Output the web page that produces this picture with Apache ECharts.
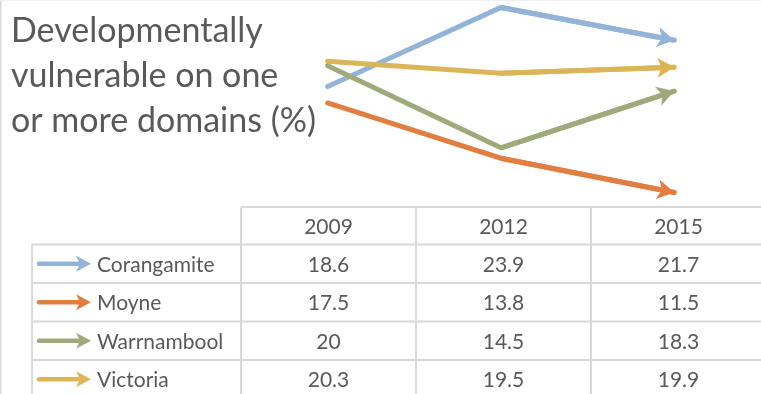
<!DOCTYPE html>
<html>
<head>
<meta charset="utf-8">
<script src="https://cdn.jsdelivr.net/npm/echarts@6/dist/echarts.min.js"></script>
<style>
  html, body { margin: 0; padding: 0; background: #fff; }
  #chart { width: 761px; height: 394px; }
</style>
</head>
<body>
<div id="chart"></div>
<script>
// Share of children developmentally vulnerable on one or more domains (%)
const years = ['2009', '2012', '2015'];
const regions = ['Corangamite', 'Moyne', 'Warrnambool', 'Victoria'];
const corangamite = [18.6, 23.9, 21.7];
const moyne = [17.5, 13.8, 11.5];
const warrnambool = [20, 14.5, 18.3];
const victoria = [20.3, 19.5, 19.9];
const titleLines = ['Developmentally', 'vulnerable on one', 'or more domains (%)'];

const seriesValues = [corangamite, moyne, warrnambool, victoria];
const colors = ['#93b4d7', '#e07f41', '#9faa7b', '#dcb559'];

// layout of the plot and the data table beneath it
const FONT = 'Lato, "Open Sans", sans-serif';
const TEXT = '#595959';
const GRID_LINE = '#d9d9d9';
const plotLeft = 241, colW = 175, plotTop = 0, plotH = 200;
const tableTop = 207, headH = 37.5, rowH = 38.5, legendLeft = 32;
const tableRight = plotLeft + colW * years.length;
const tableBottom = tableTop + headH + rowH * regions.length;

const chart = echarts.init(document.getElementById('chart'), null, { renderer: 'canvas' });

const series = regions.map((name, i) => {
  const v = seriesValues[i];
  const n = v.length;
  return {
    name: name,
    type: 'line',
    data: v,
    symbol: 'none',
    silent: true,
    z: 2 + i,
    lineStyle: { color: colors[i], width: 5, cap: 'round', join: 'miter' },
    markLine: {
      silent: true,
      symbol: ['none', 'arrow'],
      symbolSize: [15, 17],
      label: { show: false },
      lineStyle: { color: colors[i], width: 5, type: 'solid' },
      animation: false,
      data: [[{ coord: [n - 2, v[n - 2]] }, { coord: [n - 1, v[n - 1]] }]]
    }
  };
});

// data table: borders, year header, legend keys and values
const graphics = [];
function hline(x1, x2, y) {
  graphics.push({ type: 'line', silent: true, z: 1,
    shape: { x1: x1, y1: y, x2: x2, y2: y },
    style: { stroke: GRID_LINE, lineWidth: 2 } });
}
function vline(x, y1, y2) {
  graphics.push({ type: 'line', silent: true, z: 1,
    shape: { x1: x, y1: y1, x2: x, y2: y2 },
    style: { stroke: GRID_LINE, lineWidth: 2 } });
}
hline(plotLeft, tableRight, tableTop);
for (let r = 0; r <= regions.length; r++) {
  hline(legendLeft, tableRight, tableTop + headH + r * rowH);
}
vline(legendLeft, tableTop + headH, tableBottom);
for (let c = 0; c <= years.length; c++) {
  vline(plotLeft + c * colW, tableTop, tableBottom);
}
const cellFont = '21px ' + FONT;
years.forEach((y, c) => {
  graphics.push({ type: 'text', silent: true, z: 3,
    style: { text: y, x: plotLeft + colW * (c + 0.5), y: tableTop + headH / 2 + 1,
      align: 'center', verticalAlign: 'middle', fill: TEXT, font: cellFont } });
});
regions.forEach((name, r) => {
  const cy = tableTop + headH + rowH * (r + 0.5);
  // legend key: thick stroke with an arrowhead
  graphics.push({ type: 'line', silent: true, z: 3,
    shape: { x1: 39, y1: cy, x2: 80, y2: cy },
    style: { stroke: colors[r], lineWidth: 4.5, lineCap: 'round' } });
  graphics.push({ type: 'polygon', silent: true, z: 3,
    shape: { points: [[91, cy], [76, cy - 8], [80, cy], [76, cy + 8]] },
    style: { fill: colors[r] } });
  graphics.push({ type: 'text', silent: true, z: 3,
    style: { text: name, x: 97, y: cy + 1, align: 'left', verticalAlign: 'middle',
      fill: TEXT, font: cellFont } });
  seriesValues[r].forEach((val, c) => {
    graphics.push({ type: 'text', silent: true, z: 3,
      style: { text: String(val), x: plotLeft + colW * (c + 0.5), y: cy + 1,
        align: 'center', verticalAlign: 'middle', fill: TEXT, font: cellFont } });
  });
});
titleLines.forEach((t, i) => {
  graphics.push({ type: 'text', silent: true, z: 3,
    style: { text: t, x: 11, y: 31 + i * 45, align: 'left', verticalAlign: 'middle',
      fill: TEXT, font: '34px ' + FONT } });
});
// chart area frame
vline(0.5, 0, 394);
graphics.push({ type: 'line', silent: true, z: 1,
  shape: { x1: 0, y1: 0.5, x2: 761, y2: 0.5 },
  style: { stroke: '#f0f0f0', lineWidth: 1 } });

chart.setOption({
  animation: false,
  backgroundColor: '#ffffff',
  grid: { left: plotLeft, top: plotTop, width: colW * years.length, height: plotH, containLabel: false },
  xAxis: { type: 'category', data: years, boundaryGap: true, show: false },
  yAxis: { type: 'value', min: 11, max: 24.4, show: false },
  series: series,
  graphic: graphics
});
</script>
</body>
</html>
